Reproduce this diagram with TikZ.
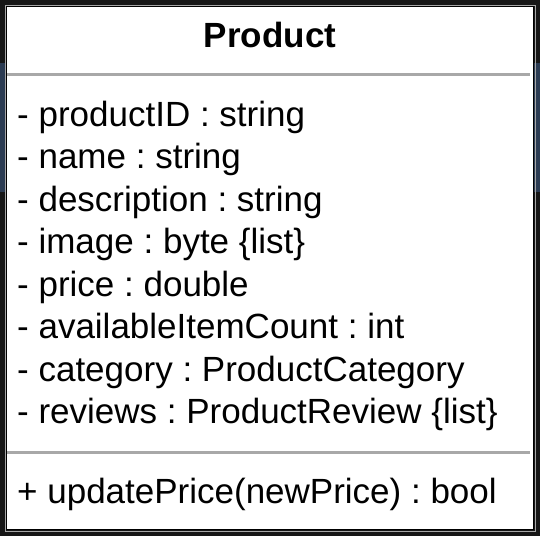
\documentclass[tikz,border=0pt]{standalone}
\usepackage{fontspec}
\setmainfont{Liberation Sans}
\usetikzlibrary{positioning}
\frenchspacing
\definecolor{bgdark}{HTML}{161616}
\definecolor{bgnavy}{HTML}{2B3B52}
\definecolor{divgray}{HTML}{A8A8A8}
\tikzset{
  every node/.style={text=black, font=\fontsize{35}{42}\selectfont, inner sep=0pt},
  attr/.style={anchor=base west},
  divider/.style={draw=divgray, line width=3pt}
}

\begin{document}
\begin{tikzpicture}[x=1pt, y=-1pt]
  \useasboundingbox (0,0) rectangle (540,536);
  % Background
  \fill[bgdark] (0,0) rectangle (540,536);
  \fill[bgnavy] (0,63) rectangle (540,192);
  % Class box
  \draw[draw=gray!70, line width=1pt] (5,5) rectangle (535,531);
  \draw[fill=white, draw=black, line width=1pt] (6.5,6.5) rectangle (533.5,529.5);
  % Nodes
  \node (title) at (270,47) [anchor=base, font=\fontsize{35}{42}\selectfont\bfseries] {Product};
  \node (productID) at (17,126) [attr] {- productID : string};
  \node (name) at (17,168.5) [attr] {- name : string};
  \node (description) at (17,211) [attr] {- description : string};
  \node (image) at (17,253.5) [attr] {- image : byte \{list\}};
  \node (price) at (17,296) [attr] {- price : double};
  \node (count) at (17,338.5) [attr] {- availableItemCount : int};
  \node (category) at (17,381) [attr] {- category : ProductCategory};
  \node (reviews) at (17,423.5) [attr] {- reviews : ProductReview \{list\}};
  \node (update) at (17,503) [attr] {+ updatePrice(newPrice) : bool};
  % Dividers
  \draw[divider] (7,74.5) -- (530,74.5);
  \draw[divider] (7,452.5) -- (530,452.5);
\end{tikzpicture}
\end{document}
